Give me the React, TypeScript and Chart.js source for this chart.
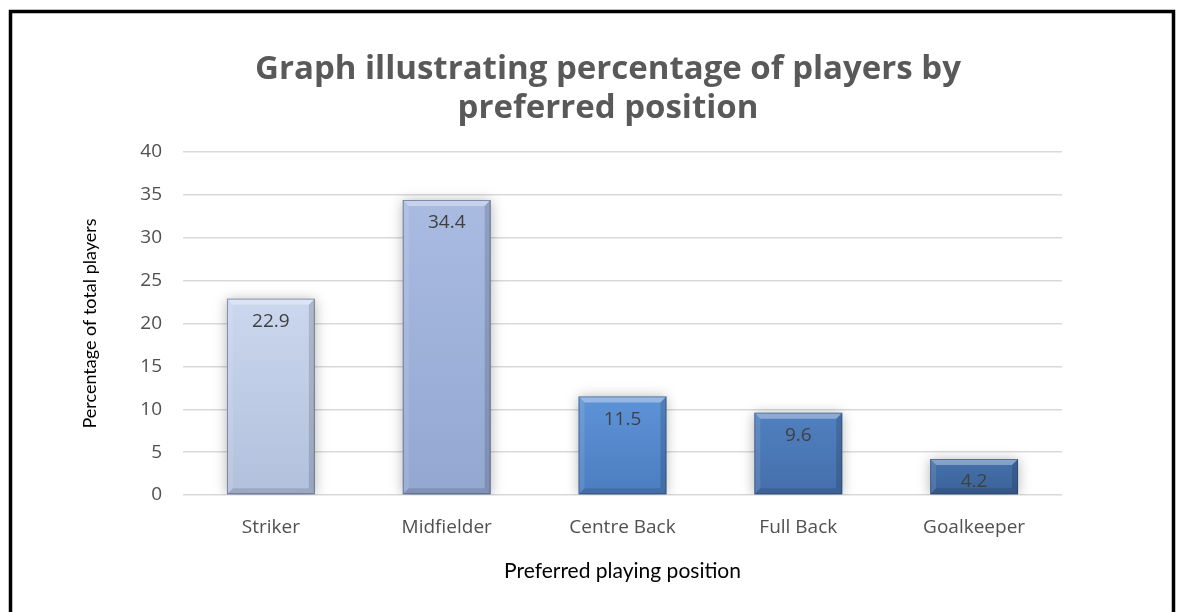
import React, { useEffect, useRef } from "react";
import { Chart, registerables } from "chart.js";

Chart.register(...registerables);

const categories = ["Striker", "Midfielder", "Centre Back", "Full Back", "Goalkeeper"];
const values = [22.9, 34.4, 11.5, 9.6, 4.2];
const barTopColors = ["#cbd7ee", "#a9bbe1", "#5e93d7", "#5180c0", "#4571ab"];
const barBottomColors = ["#b2c0dc", "#93a7d1", "#4b7dc0", "#446fab", "#3b6299"];
const yTicks = [0, 5, 10, 15, 20, 25, 30, 35, 40];
const titleLines = ["Graph illustrating percentage of players by", "preferred position"];
const xTitle = "Preferred playing position";
const yTitle = "Percentage of total players";

const W = 1180;
const H = 612;

const framePlugin = {
  id: "frame",
  beforeDraw(chart: any) {
    const ctx = chart.ctx;
    ctx.save();
    ctx.fillStyle = "#ffffff";
    ctx.fillRect(0, 0, chart.width, chart.height);
    ctx.strokeStyle = "#000000";
    ctx.lineWidth = 3.5;
    ctx.beginPath();
    ctx.moveTo(10.5, H + 10);
    ctx.lineTo(10.5, 11.5);
    ctx.lineTo(1173.5, 11.5);
    ctx.lineTo(1173.5, H + 10);
    ctx.stroke();
    ctx.restore();
  },
};

const shadowPlugin = {
  id: "barShadow",
  beforeDatasetsDraw(chart: any) {
    const ctx = chart.ctx;
    ctx.save();
    ctx.shadowColor = "rgba(0,0,0,0.30)";
    ctx.shadowBlur = 12;
    ctx.shadowOffsetX = 0;
    ctx.shadowOffsetY = 1;
  },
  afterDatasetsDraw(chart: any) {
    chart.ctx.restore();
  },
};

const bevelPlugin = {
  id: "bevel",
  afterDatasetsDraw(chart: any) {
    const ctx = chart.ctx;
    const meta = chart.getDatasetMeta(0);
    ctx.save();
    meta.data.forEach((bar: any, i: number) => {
      const { x, y, base, width } = bar.getProps(["x", "y", "base", "width"], true);
      const l = x - width / 2;
      const r = x + width / 2;
      const t = y;
      const b = base;
      const s = 6;
      ctx.fillStyle = "rgba(255,255,255,0.35)";
      ctx.beginPath();
      ctx.moveTo(l, t);
      ctx.lineTo(r, t);
      ctx.lineTo(r - s, t + s);
      ctx.lineTo(l + s, t + s);
      ctx.closePath();
      ctx.fill();
      ctx.fillStyle = "rgba(255,255,255,0.10)";
      ctx.beginPath();
      ctx.moveTo(l, t);
      ctx.lineTo(l + s, t + s);
      ctx.lineTo(l + s, b - s);
      ctx.lineTo(l, b);
      ctx.closePath();
      ctx.fill();
      ctx.fillStyle = "rgba(0,0,0,0.14)";
      ctx.beginPath();
      ctx.moveTo(r, t);
      ctx.lineTo(r - s, t + s);
      ctx.lineTo(r - s, b - s);
      ctx.lineTo(r, b);
      ctx.closePath();
      ctx.fill();
      ctx.fillStyle = "rgba(0,0,0,0.12)";
      ctx.beginPath();
      ctx.moveTo(l, b);
      ctx.lineTo(r, b);
      ctx.lineTo(r - s, b - s);
      ctx.lineTo(l + s, b - s);
      ctx.closePath();
      ctx.fill();
      ctx.strokeStyle = "rgba(40,55,85,0.45)";
      ctx.lineWidth = 1;
      ctx.strokeRect(l + 0.5, t + 0.5, width - 1, b - t - 1);
      ctx.fillStyle = "#404040";
      ctx.font = "19px 'Open Sans'";
      ctx.textAlign = "center";
      ctx.textBaseline = "middle";
      ctx.fillText(String(values[i]), x, t + 23);
    });
    ctx.restore();
  },
};

export default function App() {
  const ref = useRef<HTMLCanvasElement | null>(null);
  useEffect(() => {
    if (!ref.current) return;
    const chart = new Chart(ref.current, {
      type: "bar",
      data: {
        labels: categories,
        datasets: [
          {
            data: values,
            backgroundColor: (c: any) => {
              const area = c.chart.chartArea;
              const i = c.dataIndex;
              if (!area || i === undefined || i === null) return barTopColors[0];
              const yScale = c.chart.scales.y;
              let top = yScale ? yScale.getPixelForValue(values[i]) : area.top;
              if (!isFinite(top)) top = area.top;
              const bottom = isFinite(area.bottom) ? area.bottom : top + 1;
              if (!(bottom > top)) return barTopColors[i];
              const g = c.chart.ctx.createLinearGradient(0, top, 0, bottom);
              g.addColorStop(0, barTopColors[i]);
              g.addColorStop(1, barBottomColors[i]);
              return g;
            },
            borderWidth: 0,
            barPercentage: 0.5,
            categoryPercentage: 1,
          },
        ],
      },
      options: {
        responsive: false,
        animation: false,
        layout: { padding: { left: 36, right: 0, top: 0, bottom: 0 } },
        plugins: {
          legend: { display: false },
          tooltip: { enabled: false },
          title: {
            display: true,
            text: titleLines,
            color: "#595959",
            font: { family: "'Open Sans'", size: 33, weight: "bold", lineHeight: 39 / 33 },
            padding: { top: 50, bottom: 24 },
          },
        },
        scales: {
          x: {
            grid: { display: false },
            border: { display: false },
            ticks: { color: "#505050", font: { family: "'Open Sans'", size: 19 }, padding: 13 },
            title: {
              display: true,
              text: xTitle,
              color: "#000000",
              font: { family: "Lato", size: 21 },
              padding: { top: 0, bottom: 28 },
            },
            afterFit: (s: any) => {
              s.height = 117;
            },
          },
          y: {
            min: 0,
            max: 40,
            afterBuildTicks: (s: any) => {
              s.ticks = yTicks.map((v) => ({ value: v }));
            },
            grid: { color: "#d9d9d9", lineWidth: 1.5, drawTicks: false },
            border: { display: false },
            ticks: { color: "#505050", font: { family: "'Open Sans'", size: 19 }, padding: 21 },
            title: {
              display: true,
              text: yTitle,
              color: "#000000",
              font: { family: "Lato", size: 18 },
              padding: { top: 43, bottom: 0 },
            },
            afterFit: (s: any) => {
              s.width = 147;
            },
          },
          yRight: {
            type: "linear",
            position: "right",
            display: true,
            grid: { display: false },
            border: { display: false },
            ticks: { display: false },
            afterFit: (s: any) => {
              s.width = 118;
            },
          },
        },
      },
      plugins: [framePlugin, shadowPlugin, bevelPlugin],
    } as any);
    return () => chart.destroy();
  }, []);
  return (
    <div style={{ position: "absolute", left: 0, top: 0, width: W, height: H }}>
      <canvas ref={ref} width={W} height={H} style={{ width: W, height: H, display: "block" }} />
    </div>
  );
}
